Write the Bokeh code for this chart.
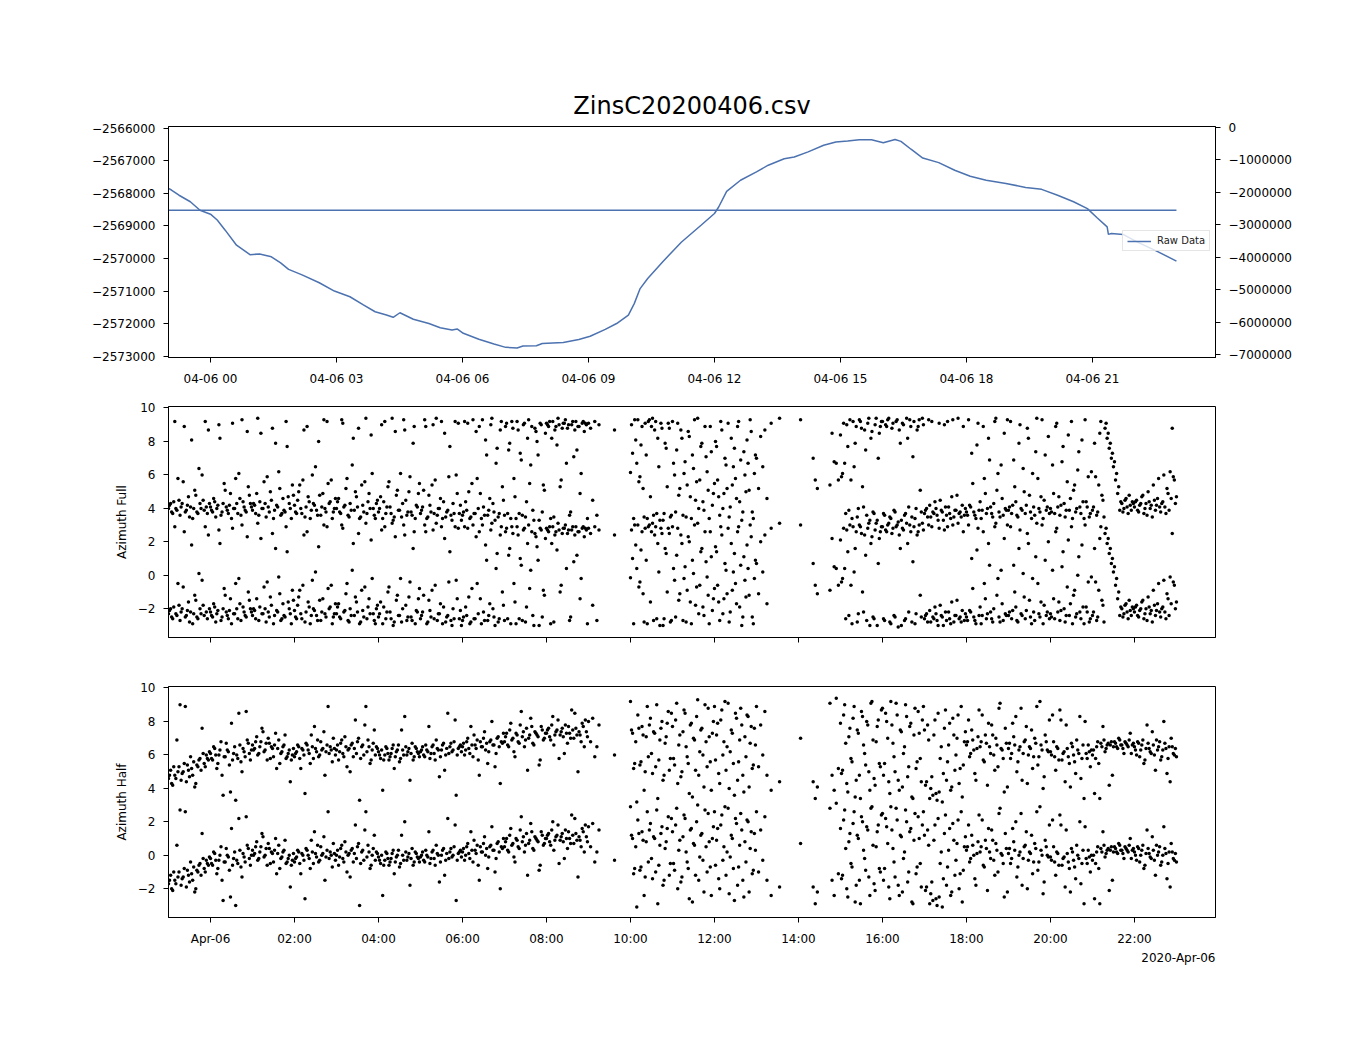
import numpy as np
from bokeh.plotting import figure
from bokeh.models import Range1d, LinearAxis, FixedTicker, Title, Legend, LegendItem
from bokeh.layouts import column
from bokeh.embed import file_html
from bokeh.resources import INLINE

FONT = "DejaVu Sans"
BLUE = "#4c72b0"

title_text = "ZinsC20200406.csv"
date_label = "2020-Apr-06"

# ---- top panel: raw data (hours since 2020-04-06 00:00) ----
raw_hours = [-1.00, -0.93, -0.75, -0.48, -0.25, 0.00, 0.16, 0.35, 0.62, 0.94, 1.17, 1.45, 1.67, 1.86,
             2.18, 2.59, 2.95, 3.32, 3.64, 3.92, 4.19, 4.35, 4.51, 4.83, 5.20, 5.47, 5.75, 5.88, 6.02,
             6.39, 6.75, 7.03, 7.30, 7.44, 7.76, 7.90, 8.40, 8.77, 9.04, 9.40, 9.67, 9.95, 10.09, 10.23,
             10.41, 10.78, 11.21, 11.68, 12.00, 12.10, 12.29, 12.62, 13.00, 13.28, 13.66, 13.90, 14.23,
             14.60, 14.89, 15.17, 15.45, 15.74, 16.02, 16.30, 16.44, 16.68, 16.96, 17.34, 17.72, 18.09,
             18.47, 18.94, 19.41, 19.79, 20.17, 20.55, 20.88, 21.11, 21.35, 21.38, 21.45, 21.73, 22.06,
             22.53, 23.00]
raw_value = [-2567850, -2567900, -2568060, -2568260, -2568520, -2568640, -2568820, -2569130, -2569590,
             -2569880, -2569860, -2569945, -2570130, -2570330, -2570500, -2570740, -2570995, -2571170,
             -2571420, -2571630, -2571730, -2571800, -2571660, -2571860, -2571990, -2572120, -2572190,
             -2572160, -2572290, -2572470, -2572620, -2572720, -2572740, -2572680, -2572670, -2572600,
             -2572570, -2572480, -2572380, -2572170, -2571990, -2571730, -2571380, -2570920, -2570610,
             -2570080, -2569500, -2568980, -2568620, -2568420, -2567940, -2567600, -2567345, -2567140,
             -2566940, -2566890, -2566730, -2566530, -2566430, -2566400, -2566360, -2566360, -2566450,
             -2566350, -2566410, -2566650, -2566920, -2567060, -2567295, -2567480, -2567600, -2567700,
             -2567820, -2567880, -2568060, -2568260, -2568470, -2568750, -2569030, -2569260, -2569230,
             -2569260, -2569490, -2569770, -2570080]
level_hours = [-1.0, 23.0]
level_value = [-2568520, -2568520]

# ---- azimuth samples, set A (hours since 2020-04-06 00:00, angles in radians) ----
hours = [
    -1.00, -0.95, -0.90, -0.85, -0.80, -0.75, -0.70, -0.65, -0.60, -0.55, -0.50, -0.45, -0.40, -0.35, -0.30, -0.25, -0.20, -0.15, -0.10, -0.05,
    0.00, 0.05, 0.10, 0.15, 0.20, 0.25, 0.30, 0.35, 0.40, 0.45, 0.50, 0.55, 0.60, 0.65, 0.70, 0.75, 0.80, 0.85, 0.90, 0.95,
    1.00, 1.05, 1.10, 1.15, 1.20, 1.25, 1.30, 1.35, 1.40, 1.45, 1.50, 1.55, 1.60, 1.65, 1.70, 1.75, 1.80, 1.85, 1.90, 1.95,
    2.00, 2.05, 2.10, 2.15, 2.20, 2.25, 2.30, 2.35, 2.40, 2.45, 2.50, 2.55, 2.60, 2.65, 2.70, 2.75, 2.80, 2.85, 2.90, 2.95,
    3.00, 3.05, 3.10, 3.15, 3.20, 3.25, 3.30, 3.35, 3.40, 3.45, 3.50, 3.55, 3.60, 3.65, 3.70, 3.75, 3.80, 3.85, 3.90, 3.95,
    4.00, 4.05, 4.10, 4.15, 4.20, 4.25, 4.30, 4.35, 4.40, 4.45, 4.50, 4.55, 4.60, 4.65, 4.70, 4.75, 4.80, 4.85, 4.90, 4.95,
    5.00, 5.05, 5.10, 5.15, 5.20, 5.25, 5.30, 5.35, 5.40, 5.45, 5.50, 5.55, 5.60, 5.65, 5.70, 5.75, 5.80, 5.85, 5.90, 5.95,
    6.00, 6.05, 6.10, 6.15, 6.20, 6.25, 6.30, 6.35, 6.40, 6.45, 6.50, 6.55, 6.60, 6.65, 6.70, 6.75, 6.80, 6.85, 6.90, 6.95,
    7.00, 7.05, 7.10, 7.15, 7.20, 7.25, 7.30, 7.35, 7.40, 7.45, 7.50, 7.55, 7.60, 7.65, 7.70, 7.75, 7.80, 7.85, 7.90, 7.95,
    8.00, 8.05, 8.10, 8.15, 8.20, 8.25, 8.30, 8.35, 8.40, 8.45, 8.50, 8.55, 8.60, 8.65, 8.70, 8.75, 8.80, 8.85, 8.90, 8.95,
    9.00, 9.05, 9.10, 9.15, 9.20, 9.25, 9.62,
    10.00, 10.05, 10.10, 10.15, 10.20, 10.25, 10.30, 10.35, 10.40, 10.45, 10.50, 10.55, 10.60, 10.65, 10.70, 10.75, 10.80, 10.85, 10.90, 10.95,
    11.00, 11.05, 11.10, 11.15, 11.20, 11.25, 11.30, 11.35, 11.40, 11.45, 11.50, 11.55, 11.60, 11.65, 11.70, 11.75, 11.80, 11.85, 11.90, 11.95,
    12.00, 12.05, 12.10, 12.15, 12.20, 12.25, 12.30, 12.35, 12.40, 12.45, 12.50, 12.55, 12.60, 12.65, 12.70, 12.75, 12.80, 12.85, 12.90, 12.95,
    13.00, 13.05, 13.10, 13.15, 13.20, 13.25, 13.35, 13.55,
    14.05, 14.35, 14.40, 14.45, 14.75, 14.80, 14.85, 14.90, 14.95,
    15.00, 15.05, 15.10, 15.15, 15.20, 15.25, 15.30, 15.35, 15.40, 15.45, 15.50, 15.55, 15.60, 15.65, 15.70, 15.75, 15.80, 15.85, 15.90, 15.95,
    16.00, 16.05, 16.10, 16.15, 16.20, 16.25, 16.30, 16.35, 16.40, 16.45, 16.50, 16.55, 16.60, 16.65, 16.70, 16.75, 16.80, 16.85, 16.90, 16.95,
    17.00, 17.05, 17.10, 17.15, 17.20, 17.25, 17.30, 17.35, 17.40, 17.45, 17.50, 17.55, 17.60, 17.65, 17.70, 17.75, 17.80, 17.85, 17.90, 17.95,
    18.00, 18.05, 18.10, 18.15, 18.20, 18.25, 18.30, 18.35, 18.40, 18.45, 18.50, 18.55, 18.60, 18.65, 18.70, 18.75, 18.80, 18.85, 18.90, 18.95,
    19.00, 19.05, 19.10, 19.15, 19.20, 19.25, 19.30, 19.35, 19.40, 19.45, 19.50, 19.55, 19.60, 19.65, 19.70, 19.75, 19.80, 19.85, 19.90, 19.95,
    20.00, 20.05, 20.10, 20.15, 20.20, 20.25, 20.30, 20.35, 20.40, 20.45, 20.50, 20.55, 20.60, 20.65, 20.70, 20.75, 20.80, 20.85, 20.90, 20.95,
    21.00, 21.05, 21.10, 21.15, 21.20, 21.25, 21.30, 21.35, 21.40, 21.45, 21.50, 21.55, 21.60, 21.65, 21.70, 21.75, 21.80, 21.85, 21.90, 21.95,
    22.00, 22.05, 22.10, 22.15, 22.20, 22.25, 22.30, 22.35, 22.40, 22.45, 22.50, 22.55, 22.60, 22.65, 22.70, 22.75, 22.80, 22.85, 22.90, 22.95,
    23.00,
]

az_full = [
    -2.3, -2.0, -2.6, 2.9, -2.4, -1.8, -2.2, -0.7, -2.5, -2.1, -2.8, 1.8, -2.3, -1.5, -2.6, -2.0, -0.3, -2.4, -2.2, 2.4,
    -2.2, -2.5, -1.9, -2.3, 2.7, -2.7, -2.0, -1.2, -2.4, -2.1, -2.9, -2.3, -0.5, -2.6, -1.7, 3.0, -2.2, -2.5, -1.0, -2.0,
    -2.4, -2.1, -1.4, -2.7, 2.2, -2.3, -2.0, -0.4, -2.5, -1.8, -2.9, 1.6, -2.2, -1.1, -2.6, -2.4, 2.9, -1.6, -2.3, -0.9,
    -2.1, -2.6, -1.3, -2.3, -0.6, -2.8, 2.6, -1.9, -2.4, -2.0, 0.2, -2.7, -1.5, -2.2, 3.0, -2.5, -0.8, -1.9, -2.9, -2.3,
    -2.3, -1.7, -2.6, 2.8, -2.1, -0.5, -2.8, -2.4, 1.9, -1.3, -2.2, -2.9, -0.9, -2.5, 3.1, -1.9, -2.3, -0.2, -2.7, -2.0,
    -2.5, -1.6, -2.9, 2.9, -2.2, -0.7, -2.6, -3.0, 2.3, -1.2, -2.4, -2.8, 3.0, -1.8, -2.5, -0.4, -2.7, 2.6, -2.1, -1.4,
    -2.6, -2.2, 3.0, -2.9, -1.5, -2.5, 2.7, -0.6, -2.7, -2.3, 2.9, -1.9, -2.8, -2.4, 1.4, -3.0, -2.6, -0.3, 2.8, -2.1,
    -2.7, 2.9, -2.4, -1.3, -2.8, 3.0, -2.6, -0.5, 2.6, -2.9, -2.2, 1.8, -2.7, -1.7, 3.1, -2.5, 0.4, -2.8, 2.4, -1.0,
    -2.7, 2.8, 1.2, -2.9, 2.5, -1.6, 2.9, -2.6, 0.6, 2.7, -2.8, 1.9, -0.8, 2.6, -3.0, 2.3, 0.9, 2.8, -2.5, -1.2,
    2.8, 2.6, -2.9, 2.9, 2.4, 1.5, 2.7, -0.6, 2.8, 3.0, 2.5, -2.7, 2.7, 0.8, 2.9, 2.6, -1.4, 2.8, 2.3, 2.7,
    2.8, 2.5, -1.8, 2.9, -2.7, 2.7, 2.4,
    -0.15, 1.0, 3.0, 0.4, -0.7, 1.5, -1.1, 2.8, -2.9, 3.0, 2.6, -2.7, 2.9, 1.9, -3.0, 2.5, -2.6, 1.3, 2.8, -2.8,
    2.9, -0.3, 1.2, -1.5, 2.4, -2.7, 0.5, -0.9, 2.0, -2.9, 0.1, -1.8, 3.1, -0.6, 1.6, -2.4, 0.8, -1.2, 2.6, -2.1,
    -0.8, 1.4, -1.6, 2.9, -2.3, 0.7, -1.1, -2.8, 1.9, 0.2, -0.5, 2.6, -1.9, -3.0, 1.1, -1.3, 0.4, 3.0, -2.5, -0.2,
    0.7, -1.1, 2.0, 0.2, 2.4, -1.7, 2.8, 3.1,
    3.0, 0.7, -0.6, -1.1, -0.9, 2.2, 0.5, 0.4, -0.6,
    2.1, -0.2, 0.4, 2.7, -2.4, -0.6, 2.9, 1.6, -2.8, 3.0, 2.5, -2.2, 1.2, 2.8, -3.0, 2.3, -2.6, 3.1, 0.7, 2.6,
    2.9, -2.7, 2.6, 3.1, -2.9, 2.8, -2.5, 3.0, 2.4, -3.0, 2.7, -2.6, 1.9, 3.0, -2.8, 2.9, -2.3, 2.6, -1.2, 3.1,
    -2.6, -2.3, 3.0, -2.8, -2.5, -1.9, -2.7, 2.8, -2.4, -3.0, -2.2, 2.9, -2.6, -1.6, -2.8, -2.4, 3.1, -2.5, -2.1, -2.7,
    -2.5, 3.0, -2.2, -0.8, -2.7, 1.5, -2.4, -2.9, 2.6, -1.4, -2.3, 0.6, -2.6, -2.0, 3.1, -0.2, -2.8, -1.7, 2.2, -2.4,
    -2.4, 2.9, -2.1, -1.0, -2.7, 1.6, -2.3, 0.1, -2.6, 2.5, -1.5, -2.9, -2.2, 1.1, -0.5, -2.5, 3.0, -1.8, -2.4, 2.0,
    -2.3, 0.3, -2.6, 2.8, -1.6, -2.1, 1.4, -2.8, -0.7, -2.4, 2.9, -1.2, -2.5, 0.0, -2.2, 1.8, -2.9, -1.9, -0.4, -2.6,
    -2.4, 1.6, -2.7, -0.9, 2.9, -1.8, 2.5, 1.9, 1.3, 0.7, 0.2, -0.6, -1.4, -2.4, -2.0, -2.3, -1.7, -2.6, -2.1, -1.9,
    -2.2, -1.8, -2.5, -2.0, -1.5, -2.3, -2.7, -1.9, -2.1, -0.9, -2.4, -1.7, -2.2, -2.0, -0.3, -2.6, -1.4, -0.1, 2.5, -0.6,
    -1.6,
]

az_half = [
    -1.7, -1.2, -2.1, -1.5, 0.6, -1.0, -1.8, -1.3, 2.6, -0.9, -1.6, -1.1, -0.7, -2.0, -1.0, -0.5, 1.3, -0.8, -0.3, -0.6,
    -0.2, -0.6, 0.1, -1.1, -0.3, 0.5, -2.7, -0.4, 0.0, -0.9, 1.6, -0.2, -3.0, -0.5, 0.3, -1.3, -0.1, 2.3, 0.4, -0.6,
    0.3, 0.1, 0.8, -0.2, 0.5, 1.1, 0.0, -0.6, 0.4, 0.2, -0.4, 1.0, 0.1, -0.8, -0.1, 0.3, -0.5, -0.2, -1.9, -0.3,
    -0.4, -0.1, 0.2, -1.1, 0.0, -2.6, 0.3, -0.2, 0.9, -0.5, 0.1, 0.6, -0.3, 0.0, 1.1, -0.1, 2.6, 0.2, -0.7, 0.1,
    0.0, -0.6, 0.4, -0.2, 0.8, -1.0, 0.1, 0.3, -0.4, 1.8, 0.5, -3.0, 0.2, -0.3, 2.6, 0.6, -0.8, 0.0, 1.2, 0.2,
    -0.1, -0.5, -2.4, -0.3, 0.1, -0.6, -0.2, 0.3, -0.4, 0.0, -0.7, 1.2, -0.3, 0.2, -0.1, -1.8, 0.4, -0.4, 0.1, -0.2,
    -0.1, 0.2, -0.4, 0.0, 1.4, -0.2, 0.3, -0.6, 0.1, -1.6, 0.0, 0.4, -0.3, 2.2, 0.2, -0.1, 0.5, -2.7, 0.1, 0.3,
    0.2, -0.3, 0.5, 0.1, 1.4, -0.4, 0.3, 0.6, -1.5, 0.2, 0.7, 0.0, -0.8, 0.5, 1.7, 0.3, -0.2, 0.8, -2.0, 0.4,
    0.5, 1.0, 0.2, 1.6, 0.7, -0.4, 0.9, 0.4, 2.3, 1.1, 0.6, -1.2, 0.9, 1.4, 0.3, 1.0, 0.8, -0.6, 1.2, 0.7,
    1.0, 1.3, 0.6, 2.0, 0.9, 1.2, -0.5, 1.1, 0.8, 1.5, 0.4, 1.0, 2.4, 0.7, 1.3, -1.3, 0.9, 1.6, 0.2, 1.1,
    1.7, 0.5, 1.9, -0.4, 0.2, 1.5, -0.3,
    2.9, 1.0, -0.8, -3.1, 1.3, -0.7, 0.9, -1.3, 2.6, 1.5, -0.2, 1.1, -1.0, -2.9, 0.6, 1.7, -1.5, 0.8, 2.3, -0.5,
    1.4, -0.9, 2.8, 0.3, -1.6, 1.1, 2.2, -0.4, -2.6, 1.6, 0.7, -1.2, 3.0, -0.1, 1.3, -2.2, 0.5, 2.5, -0.7, 1.0,
    2.6, 0.9, -1.4, 1.8, -0.3, 2.9, 0.2, -2.3, 1.2, -0.8, 2.2, -1.8, 0.6, 1.5, -2.5, -0.4, 2.0, 0.4, -1.1, 1.3,
    2.6, -1.0, 1.5, -0.3, 2.3, -1.5, -2.4, -1.9,
    0.7, -1.9, -2.9, -2.2, 2.8, -1.5, -2.4, 3.1, -1.1,
    1.6, -1.2, 2.7, -2.0, 0.8, -0.5, 1.9, -2.8, 1.2, -1.5, 2.3, 0.3, -0.9, 1.5, -2.4, 2.9, -1.7, 0.5, 1.8, -1.0,
    2.5, -0.8, 1.7, -1.9, 2.9, 0.4, -1.3, 2.1, -2.4, 1.1, -0.2, 2.7, -1.6, 1.4, -2.8, 0.9, -1.1, 2.3, -0.5, 1.8,
    1.2, -1.9, 0.6, -2.3, -2.7, 1.8, -3.0, -2.5, 0.2, -1.4, 2.4, -0.7, 1.6, -2.2, 0.9, -0.3, 2.1, -1.1, -2.8, 0.5,
    0.3, 1.8, -0.2, 0.6, -1.4, 0.1, 2.4, 0.5, -0.6, 0.9, -2.1, 0.2, 1.5, -0.3, 0.7, -1.0, 2.8, 0.0, -2.5, 0.4,
    0.1, -0.5, 1.6, 0.3, -1.3, 0.0, 2.5, -0.2, 0.6, -2.0, 0.2, 1.2, -0.4, 0.4, -0.9, 2.9, 0.0, -1.6, 0.5, -0.1,
    -0.1, 2.1, -0.4, 0.2, -0.6, 1.8, -0.2, -1.9, 0.1, -0.8, 0.4, -0.3, -1.4, 0.0, 2.0, -0.5, -2.9, -0.2, 0.3, -1.0,
    -0.3, -2.6, 0.2, -0.8, 0.4, 1.4, -0.1, 0.3, -2.1, 0.5, 0.2, 0.4, 0.1, 0.6, 0.3, -0.2, 0.4, 0.2, 1.0, 0.3,
    0.2, -0.3, 0.4, 0.0, 0.6, -0.6, 1.5, 0.1, -0.2, 0.3, -1.2, 0.0, 0.5, -0.4, 1.7, 0.1, -0.5, -1.9, 0.2, -0.3,
    -0.4,
]

# ---- azimuth samples, set B (interleaved timestamps) ----
hours_b = [
    -0.975, -0.925, -0.875, -0.825, -0.775, -0.725, -0.675, -0.625, -0.575, -0.525, -0.475, -0.425, -0.375, -0.325, -0.275, -0.225, -0.175, -0.125, -0.075, -0.025,
    0.025, 0.075, 0.125, 0.175, 0.225, 0.275, 0.325, 0.375, 0.425, 0.475, 0.525, 0.575, 0.625, 0.675, 0.725, 0.775, 0.825, 0.875, 0.925, 0.975,
    1.025, 1.075, 1.125, 1.175, 1.225, 1.275, 1.325, 1.375, 1.425, 1.475, 1.525, 1.575, 1.625, 1.675, 1.725, 1.775, 1.825, 1.875, 1.925, 1.975,
    2.025, 2.075, 2.125, 2.175, 2.225, 2.275, 2.325, 2.375, 2.425, 2.475, 2.525, 2.575, 2.625, 2.675, 2.725, 2.775, 2.825, 2.875, 2.925, 2.975,
    3.025, 3.075, 3.125, 3.175, 3.225, 3.275, 3.325, 3.375, 3.425, 3.475, 3.525, 3.575, 3.625, 3.675, 3.725, 3.775, 3.825, 3.875, 3.925, 3.975,
    4.025, 4.075, 4.125, 4.175, 4.225, 4.275, 4.325, 4.375, 4.425, 4.475, 4.525, 4.575, 4.625, 4.675, 4.725, 4.775, 4.825, 4.875, 4.925, 4.975,
    5.025, 5.075, 5.125, 5.175, 5.225, 5.275, 5.325, 5.375, 5.425, 5.475, 5.525, 5.575, 5.625, 5.675, 5.725, 5.775, 5.825, 5.875, 5.925, 5.975,
    6.025, 6.075, 6.125, 6.175, 6.225, 6.275, 6.325, 6.375, 6.425, 6.475, 6.525, 6.575, 6.625, 6.675, 6.725, 6.775, 6.825, 6.875, 6.925, 6.975,
    7.025, 7.075, 7.125, 7.175, 7.225, 7.275, 7.325, 7.375, 7.425, 7.475, 7.525, 7.575, 7.625, 7.675, 7.725, 7.775, 7.825, 7.875, 7.925, 7.975,
    8.025, 8.075, 8.125, 8.175, 8.225, 8.275, 8.325, 8.375, 8.425, 8.475, 8.525, 8.575, 8.625, 8.675, 8.725, 8.775, 8.825, 8.875, 8.925, 8.975,
    10.025, 10.075, 10.125, 10.175, 10.225, 10.275, 10.325, 10.375, 10.425, 10.475, 10.525, 10.575, 10.625, 10.675, 10.725, 10.775, 10.825, 10.875, 10.925, 10.975,
    11.025, 11.075, 11.125, 11.175, 11.225, 11.275, 11.325, 11.375, 11.425, 11.475, 11.525, 11.575, 11.625, 11.675, 11.725, 11.775, 11.825, 11.875, 11.925, 11.975,
    12.025, 12.075, 12.125, 12.175, 12.225, 12.275, 12.325, 12.375, 12.425, 12.475, 12.525, 12.575, 12.625, 12.675, 12.725, 12.775, 12.825, 12.875, 12.925, 12.975,
    15.025, 15.075, 15.125, 15.175, 15.225, 15.275, 15.325, 15.375, 15.425, 15.475, 15.525, 15.575, 15.625, 15.675, 15.725, 15.775, 15.825, 15.875, 15.925, 15.975,
    16.025, 16.075, 16.125, 16.175, 16.225, 16.275, 16.325, 16.375, 16.425, 16.475, 16.525, 16.575, 16.625, 16.675, 16.725, 16.775, 16.825, 16.875, 16.925, 16.975,
    17.025, 17.075, 17.125, 17.175, 17.225, 17.275, 17.325, 17.375, 17.425, 17.475, 17.525, 17.575, 17.625, 17.675, 17.725, 17.775, 17.825, 17.875, 17.925, 17.975,
    18.025, 18.075, 18.125, 18.175, 18.225, 18.275, 18.325, 18.375, 18.425, 18.475, 18.525, 18.575, 18.625, 18.675, 18.725, 18.775, 18.825, 18.875, 18.925, 18.975,
    19.025, 19.075, 19.125, 19.175, 19.225, 19.275, 19.325, 19.375, 19.425, 19.475, 19.525, 19.575, 19.625, 19.675, 19.725, 19.775, 19.825, 19.875, 19.925, 19.975,
    20.025, 20.075, 20.125, 20.175, 20.225, 20.275, 20.325, 20.375, 20.425, 20.475, 20.525, 20.575, 20.625, 20.675, 20.725, 20.775, 20.825, 20.875, 20.925, 20.975,
    21.025, 21.075, 21.125, 21.175, 21.225, 21.275, 21.325, 21.375, 21.425, 21.475, 21.525, 21.575, 21.625, 21.675, 21.725, 21.775, 21.825, 21.875, 21.925, 21.975,
    22.025, 22.075, 22.125, 22.175, 22.225, 22.275, 22.325, 22.375, 22.425, 22.475, 22.525, 22.575, 22.625, 22.675, 22.725, 22.775, 22.825, 22.875, 22.925, 22.975,
]

az_full_b = [
    -2.1, -2.5, -1.9, -2.3, -0.5, -2.7, -2.0, 2.6, -2.4, -1.6, -2.2, -2.9, -1.2, -2.5, 0.1, -2.3, -1.8, 2.9, -2.6, -2.0,
    -2.4, -1.7, -2.8, -2.1, 1.9, -2.5, -0.8, -2.2, -2.6, -1.4, 2.8, -2.3, -2.0, -0.2, -2.7, -1.9, -2.4, 2.3, -1.5, -2.2,
    -2.0, -2.6, 3.1, -1.9, -2.3, -0.7, -2.8, -2.2, -1.3, 2.5, -2.4, -2.1, -0.1, -2.7, -1.7, -2.5, 1.4, -2.0, -2.9, -1.5,
    -2.5, -1.8, -0.9, -2.6, 2.4, -2.2, -1.6, -2.9, -0.3, -2.1, -2.4, 1.7, -2.7, -1.4, -2.3, 2.9, -2.0, -0.6, -2.5, -1.7,
    -1.9, -2.5, 3.0, -2.2, -1.1, -2.7, -2.0, 0.3, -2.4, -1.6, 2.5, -2.8, -2.1, -0.7, -2.6, -1.4, 2.1, -2.3, -2.9, -1.8,
    -2.3, 2.7, -1.9, -2.6, -1.0, -2.2, 3.1, -2.8, -1.5, -2.4, -0.2, -2.0, 2.4, -2.7, -1.3, -2.5, 1.6, -2.9, -2.2, -0.8,
    -2.4, -1.2, 2.6, -2.8, -2.1, -0.9, -2.6, 3.1, -2.3, -1.7, -2.9, 2.2, -2.5, -0.4, -2.7, -2.0, 2.9, -1.4, -2.6, -3.0,
    -2.5, -1.9, 2.8, -2.9, -0.8, -2.6, 2.3, -2.3, -1.4, 3.0, -2.7, 0.9, -2.4, 2.7, -2.0, -3.0, 1.3, -2.6, 2.9, -1.8,
    2.6, -2.6, 1.6, 2.9, -0.5, -2.9, 2.4, 1.0, -2.7, 2.8, -1.9, 3.0, 0.3, -2.4, 2.5, 1.7, -3.0, 2.7, -0.9, 2.2,
    2.7, 2.9, 1.9, -2.8, 2.6, 3.1, -1.0, 2.5, 2.8, 0.4, 2.7, -2.5, 2.9, 2.4, 1.2, 2.6, -0.2, 2.9, 2.8, -2.9,
    2.7, -2.9, 1.8, 3.0, -0.4, 2.6, -2.8, 0.9, 2.9, -1.6, 3.1, 2.4, -2.6, 0.2, 2.8, -3.0, 1.6, -1.0, 2.5, -2.7,
    0.4, -2.5, 2.8, -1.1, 1.9, -0.2, -2.8, 2.3, -1.6, 0.9, 3.0, -0.7, -2.3, 1.4, -1.9, 2.6, -0.1, -2.9, 1.1, -1.4,
    1.7, -0.6, -2.7, 2.4, -1.4, 0.3, 2.8, -2.2, -0.9, 1.3, -1.7, 2.9, 0.6, -2.5, -0.3, 1.8, -1.2, 2.3, -2.9, 0.9,
    -0.4, 2.8, -2.6, 1.4, 3.0, -2.9, 0.2, 2.6, -2.3, 2.9, -1.0, 2.4, -2.7, 3.1, 1.9, -2.5, 2.7, -3.0, 2.2, 2.9,
    -2.6, 2.7, 3.0, -2.8, 2.5, -2.4, 2.9, -3.1, 1.6, 2.8, -2.7, 3.1, -2.2, 2.6, 0.8, -2.9, 2.4, 3.0, -2.5, 2.7,
    -2.4, -2.8, -2.1, 2.9, -2.6, -2.3, -3.0, -1.8, -2.5, 2.7, -2.7, -2.2, -2.9, 3.0, -2.4, -1.5, -2.6, -2.8, 2.6, -2.3,
    -2.7, -2.1, 1.0, -2.5, -2.9, 2.8, -1.9, -2.4, -0.5, -2.6, 1.9, -2.2, -2.8, 2.9, -1.2, -2.5, 0.3, -2.7, -2.3, 3.0,
    -2.2, -2.6, 0.6, -1.9, -2.8, 2.7, -2.4, -1.3, -2.1, 1.9, -2.5, -0.2, -2.7, 3.1, -2.3, -1.6, -2.9, 0.9, -2.2, -2.6,
    -2.5, -1.4, 2.6, -2.2, -2.7, 0.5, -2.0, -2.4, 2.1, -1.7, -2.9, -0.9, -2.3, 1.1, -2.6, -1.9, 3.0, -2.2, -2.8, -0.1,
    -2.2, -0.4, -2.5, 2.2, -1.5, -2.8, 2.8, 2.2, 1.6, 1.0, 0.5, -0.2, -1.0, -1.9, -2.5, -1.8, -2.2, -1.5, -2.4, -2.0,
    -1.9, -2.4, -2.1, -1.6, -2.6, -2.0, -1.3, -2.3, -2.8, -1.8, -2.1, -0.5, -2.5, -1.9, -2.2, -1.1, -2.4, -1.7, -0.4, -2.0,
]

az_half_b = [
    -1.5, -2.0, -1.0, -1.7, -1.3, 2.7, -1.4, -0.8, -1.9, -1.2, -0.4, -1.5, -2.2, -0.9, -0.6, -1.2, -0.2, -1.0, -0.5, -0.1,
    -0.5, 0.2, -0.3, -0.8, 0.0, -1.5, -0.4, 0.4, -0.1, -2.5, -0.6, 0.2, -0.3, 2.2, -0.7, 0.1, -0.4, 0.6, -0.2, 0.0,
    0.0, 0.5, -0.3, 0.2, 1.3, -0.1, 0.4, 0.7, -0.5, 0.1, 0.3, -1.1, 0.6, -0.2, 0.2, 0.9, -0.4, 0.0, -0.6, 0.1,
    -0.2, 0.3, -0.5, 0.1, -0.3, 0.4, 0.0, -0.8, 0.2, 1.4, -0.1, -0.4, 0.5, 0.1, -1.5, 0.3, -0.2, 0.0, 0.7, -0.3,
    0.3, -0.1, 0.6, -0.4, 0.2, 0.0, -1.3, 0.4, 0.1, -0.2, 0.7, -0.5, 0.3, 1.5, -0.1, 0.2, -0.6, 0.4, -0.3, 0.1,
    -0.3, 0.0, -0.6, 0.2, -0.2, -0.4, 0.1, -1.1, -0.1, 0.3, -0.5, 0.0, 2.0, -0.3, 0.1, -0.2, -0.6, 0.2, -0.1, -0.4,
    0.0, -0.3, 0.3, -0.1, -0.5, 0.2, -0.2, 0.6, 0.0, -0.4, 0.3, -1.2, 0.1, -0.2, 0.4, 0.0, 1.8, -0.3, 0.2, -0.1,
    0.4, 0.0, 0.7, -0.2, 0.3, 0.9, 0.1, -0.6, 0.5, 0.2, 1.1, 0.4, -0.1, 0.6, 0.3, -1.0, 0.7, 0.2, 0.5, 1.0,
    0.8, 0.3, 1.2, 0.6, -0.1, 1.0, 0.5, 1.5, 0.8, 0.2, 1.3, 0.7, 1.9, 0.4, 1.1, 0.9, -0.9, 1.4, 0.6, 1.0,
    1.2, 0.8, 1.5, 0.3, 1.1, 1.8, 0.9, 1.3, -0.2, 1.0, 1.4, 0.7, 1.2, 2.2, 0.9, 1.1, 0.5, 1.4, 1.8, 0.8,
    1.2, -1.1, 0.5, 2.1, -0.9, 1.4, -2.4, 0.8, -0.4, 1.9, -1.4, 1.0, 2.7, -0.6, 1.3, -1.8, 0.4, 1.6, -1.2, 2.2,
    -0.5, 1.8, -2.0, 0.9, -1.3, 2.4, 0.2, -0.8, 1.5, -2.8, 0.6, 2.0, -1.5, 1.2, -0.3, 2.7, -1.0, 0.8, -2.4, 1.7,
    -0.6, 1.6, -2.0, 2.4, 0.5, -1.2, 2.8, -0.1, 1.0, -2.7, 1.9, -0.7, 2.5, -1.5, 0.8, 2.1, -2.2, 1.4, -0.9, 0.3,
    -1.4, 2.1, 0.4, -2.5, 1.3, -0.7, 2.6, -1.8, 1.0, -2.9, 2.0, -0.2, 1.7, -1.3, 2.8, 0.6, -2.1, 1.4, -0.8, 2.4,
    -1.5, 2.2, 0.7, -2.6, 1.5, -0.4, 2.8, -1.8, 1.2, -2.2, 0.2, 2.0, -1.0, 1.6, -2.9, 2.5, -0.7, 1.0, -1.9, 2.6,
    -2.1, 1.5, -2.9, -1.6, 0.9, -2.6, 2.2, -0.5, -3.1, 1.3, -1.8, 0.3, -2.4, 1.9, -1.2, 0.7, -2.0, 2.6, -0.9, 1.1,
    0.5, -0.4, 1.2, 0.0, -1.8, 0.8, 0.2, 2.1, -0.7, 0.4, 1.6, -0.2, 0.9, -1.2, 0.3, 2.5, 0.1, -0.5, 1.3, -2.2,
    0.4, -0.2, 0.8, 2.0, -0.7, 0.2, -1.8, 0.5, 1.4, -0.3, 0.1, -1.1, 0.7, 2.6, -0.4, 0.3, -2.3, 0.9, 0.0, 1.8,
    -0.3, 0.5, -1.2, 0.1, 2.4, -0.6, -0.1, 1.5, -0.4, -2.2, 0.2, -0.7, 0.6, -0.2, -1.7, 0.3, 1.7, -0.5, -0.1, 0.0,
    0.0, -0.5, 0.5, -2.9, 0.2, 0.6, 0.1, 0.4, 0.3, -1.5, 0.5, 0.2, 0.7, 0.3, 0.1, 0.5, 0.3, 0.6, -0.2, 0.4,
    0.0, 0.5, -0.4, 0.3, -0.8, 0.1, 0.4, -0.1, 1.1, -0.3, 0.6, 0.2, -0.6, 0.0, 0.4, -1.4, 0.2, 0.7, -0.2, 0.1,
]

# ---- ticks ----
top_left_ticks = [-2573000, -2572000, -2571000, -2570000, -2569000, -2568000, -2567000, -2566000]
top_right_ticks = [-7000000, -6000000, -5000000, -4000000, -3000000, -2000000, -1000000, 0]
top_x_ticks = [0, 3, 6, 9, 12, 15, 18, 21]
top_x_labels = ["04-06 00", "04-06 03", "04-06 06", "04-06 09", "04-06 12", "04-06 15", "04-06 18", "04-06 21"]
bot_x_ticks = [0, 2, 4, 6, 8, 10, 12, 14, 16, 18, 20, 22]
bot_x_labels = ["Apr-06", "02:00", "04:00", "06:00", "08:00", "10:00", "12:00", "14:00", "16:00", "18:00", "20:00", "22:00"]
az_ticks = [-2, 0, 2, 4, 6, 8, 10]


def minus(v):
    return str(v).replace("-", "\u2212")


def style(p):
    p.outline_line_color = "black"
    p.outline_line_width = 1
    p.outline_line_alpha = 1
    p.xgrid.visible = False
    p.ygrid.visible = False
    p.background_fill_color = "white"
    p.border_fill_color = "white"
    for ax in p.axis:
        ax.axis_line_color = "black"
        ax.major_tick_line_color = "black"
        ax.major_tick_out = 5
        ax.major_tick_in = 0
        ax.minor_tick_line_color = None
        ax.major_label_text_font = FONT
        ax.major_label_text_font_size = "12px"
        ax.major_label_text_color = "black"
        ax.major_label_standoff = 8
        ax.axis_label_text_font = FONT
        ax.axis_label_text_font_size = "12px"
        ax.axis_label_text_font_style = "normal"
        ax.axis_label_text_color = "black"


x_range = Range1d(-1.0, 23.93)
FW, FH = 1047, 231
LB, RB = 168, 118

# ---- top figure ----
p1 = figure(frame_width=FW, frame_height=FH, x_range=x_range,
            y_range=Range1d(-2573031, -2565954),
            min_border_left=LB, min_border_right=RB, min_border_top=126, min_border_bottom=35,
            output_backend="svg", toolbar_location=None, title=title_text)
p1.title.text_font = FONT
p1.title.text_font_size = "24px"
p1.title.text_font_style = "normal"
p1.title.align = "center"
p1.title.text_color = "black"
p1.title.standoff = 13
p1.extra_y_ranges = {"right": Range1d(-7092500, 31000)}
ax_r = LinearAxis(y_range_name="right", ticker=FixedTicker(ticks=top_right_ticks),
                  major_label_overrides={t: minus(t) for t in top_right_ticks})
p1.add_layout(ax_r, "right")
r_raw = p1.line(raw_hours, raw_value, color=BLUE, line_width=1.5)
p1.line(level_hours, level_value, color=BLUE, line_width=1.3)
p1.xaxis.ticker = FixedTicker(ticks=top_x_ticks)
p1.xaxis.major_label_overrides = dict(zip(top_x_ticks, top_x_labels))
p1.yaxis[0].ticker = FixedTicker(ticks=top_left_ticks)
p1.yaxis[0].major_label_overrides = {t: minus(t) for t in top_left_ticks}
style(p1)
p1.xaxis.major_label_standoff = 9
legend = Legend(items=[LegendItem(label="Raw Data", renderers=[r_raw])], location=(954, 106))
legend.label_text_font = FONT
legend.label_text_font_size = "10px"
legend.label_text_color = "#222222"
legend.border_line_color = "#cccccc"
legend.border_line_width = 1
legend.background_fill_alpha = 0.8
legend.padding = 4
legend.margin = 0
legend.spacing = 0
legend.glyph_width = 24
legend.glyph_height = 10
legend.label_height = 10
legend.label_standoff = 6
p1.add_layout(legend)

# ---- azimuth figures ----
t_all = np.concatenate([np.array(hours, dtype=float), np.array(hours_b, dtype=float)])
TWO_PI = 2 * np.pi


def azimuth_figure(angles_a, angles_b, label, top, bottom, show_labels):
    a = np.concatenate([np.array(angles_a, dtype=float), np.array(angles_b, dtype=float)])
    p = figure(frame_width=FW, frame_height=FH, x_range=x_range, y_range=Range1d(-3.72, 10.08),
               min_border_left=LB, min_border_right=RB, min_border_top=top, min_border_bottom=bottom,
               output_backend="svg", toolbar_location=None)
    p.scatter(np.concatenate([t_all, t_all]), np.concatenate([a, a + TWO_PI]),
              size=3.5, color="black", line_color=None)
    p.xaxis.ticker = FixedTicker(ticks=bot_x_ticks)
    p.yaxis.ticker = FixedTicker(ticks=az_ticks)
    p.yaxis.major_label_overrides = {t: minus(t) for t in az_ticks}
    p.yaxis.axis_label = label
    style(p)
    p.yaxis.axis_label_standoff = 6
    if show_labels:
        p.xaxis.major_label_overrides = dict(zip(bot_x_ticks, bot_x_labels))
        p.xaxis.major_label_standoff = 9
    else:
        p.xaxis.major_label_overrides = {t: "" for t in bot_x_ticks}
    return p


p2 = azimuth_figure(az_full, az_full_b, "Azimuth Full", 14, 20, False)
p3 = azimuth_figure(az_half, az_half_b, "Azimuth Half", 29, 70, True)
p3.add_layout(Title(text=date_label, align="right", text_font=FONT, text_font_size="12px",
                    text_font_style="normal", text_color="black", standoff=0), "below")

layout = column(p1, p2, p3, spacing=0)
open("out.html", "w").write(file_html(layout, INLINE))
